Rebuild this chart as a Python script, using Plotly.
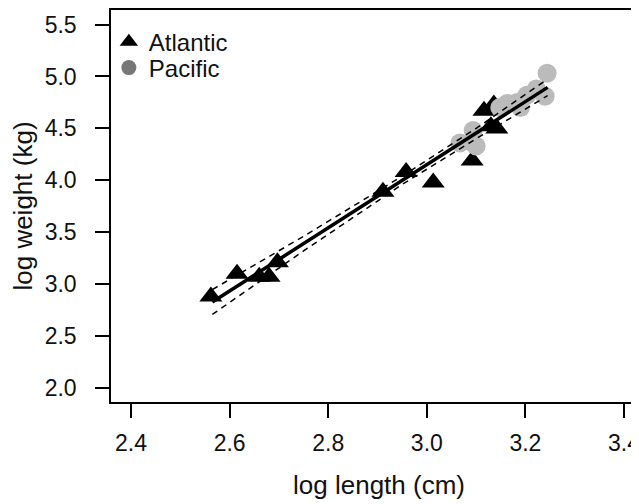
import plotly.graph_objects as go

# Atlantic (triangles)
atl_x = [2.562, 2.615, 2.660, 2.680, 2.697, 2.911, 2.958, 3.013, 3.092, 3.116, 3.136, 3.130, 3.142]
atl_y = [2.880, 3.100, 3.070, 3.070, 3.210, 3.890, 4.080, 3.980, 4.190, 4.670, 4.730, 4.520, 4.500]

# Pacific (circles)
pac_x = [3.067, 3.090, 3.094, 3.100, 3.148, 3.163, 3.183, 3.190, 3.203, 3.222, 3.240, 3.244]
pac_y = [4.360, 4.370, 4.480, 4.330, 4.700, 4.740, 4.750, 4.700, 4.820, 4.880, 4.810, 5.030]

# Regression fit and confidence band
fit_x = [2.565, 2.75, 2.95, 3.10, 3.245]
fit_y = [2.828, 3.390, 4.000, 4.454, 4.895]
ci_upper = [2.948, 3.460, 4.040, 4.500, 4.975]
ci_lower = [2.708, 3.320, 3.960, 4.400, 4.815]

x_ticks = [2.4, 2.6, 2.8, 3.0, 3.2, 3.4]
y_ticks = [2.0, 2.5, 3.0, 3.5, 4.0, 4.5, 5.0, 5.5]

FONT = "Liberation Sans, Arial, Helvetica, sans-serif"

fig = go.Figure()
fig.add_trace(go.Scatter(x=atl_x, y=atl_y, mode="markers", showlegend=False,
                         marker=dict(symbol="triangle-up", size=20, color="black")))
fig.add_trace(go.Scatter(x=pac_x, y=pac_y, mode="markers", showlegend=False,
                         marker=dict(symbol="circle", size=19, color="#bbbbbb")))
fig.add_trace(go.Scatter(x=fit_x, y=ci_upper, mode="lines", showlegend=False,
                         line=dict(color="black", width=1.5, dash="6px,5px")))
fig.add_trace(go.Scatter(x=fit_x, y=ci_lower, mode="lines", showlegend=False,
                         line=dict(color="black", width=1.5, dash="6px,5px")))
fig.add_trace(go.Scatter(x=fit_x, y=fit_y, mode="lines", showlegend=False,
                         line=dict(color="black", width=3.5)))
# legend entries
fig.add_trace(go.Scatter(x=[None], y=[None], mode="markers", name="Atlantic", legend="legend",
                         marker=dict(symbol="triangle-up", size=16, color="black")))
fig.add_trace(go.Scatter(x=[None], y=[None], mode="markers", name="Pacific", legend="legend2",
                         marker=dict(symbol="circle", size=15, color="#777777")))

axis_common = dict(showgrid=False, zeroline=False, showline=True, linecolor="black",
                   linewidth=1.5, ticks="outside", ticklen=14, tickwidth=1.5,
                   tickcolor="black", tickfont=dict(family=FONT, size=23, color="#111"),
                   automargin=False, ticklabeloverflow="allow")

leg_common = dict(x=-0.004, xanchor="left", yanchor="middle",
                  font=dict(family=FONT, size=24, color="#111"),
                  bgcolor="rgba(0,0,0,0)", itemsizing="trace")

fig.update_layout(
    width=639, height=504,
    margin=dict(l=103, r=0, t=2, b=110),
    plot_bgcolor="white", paper_bgcolor="white",
    font=dict(family=FONT, color="#111"),
    xaxis=dict(range=[2.3594, 3.4466], tickvals=x_ticks,
               ticktext=[f"{v:.1f}" for v in x_ticks],
               title=dict(text="log length (cm)", font=dict(family=FONT, size=26), standoff=20),
               mirror=True, ticklabelstandoff=6, **axis_common),
    yaxis=dict(range=[1.865, 5.64], tickvals=y_ticks,
               ticktext=[f"{v:.1f}" for v in y_ticks],
               title=dict(text="log weight (kg)", font=dict(family=FONT, size=26), standoff=12),
               ticklabelstandoff=14, **axis_common),
    legend=dict(y=0.918, **leg_common),
    legend2=dict(y=0.852, **leg_common),
)

fig.write_html("out.html")
